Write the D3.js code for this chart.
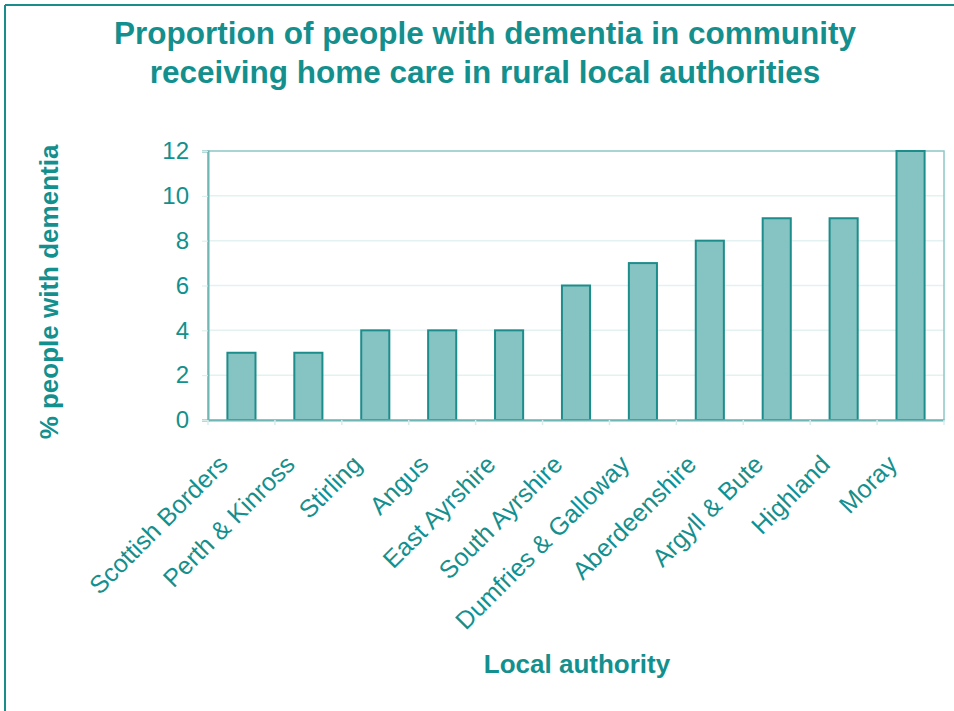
<!DOCTYPE html>
<html>
<head>
<meta charset="utf-8">
<script src="https://cdn.jsdelivr.net/npm/d3@7"></script>
<style>
  body { margin: 0; background: #fff; }
  text { font-family: "Liberation Sans", Arial, sans-serif; }
</style>
</head>
<body>
<div id="chart"></div>
<script>
// data
var authorities = ["Scottish Borders", "Perth & Kinross", "Stirling", "Angus", "East Ayrshire",
                   "South Ayrshire", "Dumfries & Galloway", "Aberdeenshire", "Argyll & Bute",
                   "Highland", "Moray"];
var percentages = [3, 3, 4, 4, 4, 6, 7, 8, 9, 9, 12];
var yTicks = [0, 2, 4, 6, 8, 10, 12];

var teal = "#13908e";

var svg = d3.select("#chart").append("svg")
            .attr("width", 954)
            .attr("height", 711);

// outer frame (top and left edges visible)
svg.append("line").attr("x1", 5).attr("x2", 954).attr("y1", 5).attr("y2", 5)
   .attr("stroke", "#1a8c8a").attr("stroke-width", 2);
svg.append("line").attr("x1", 5).attr("x2", 5).attr("y1", 5).attr("y2", 711)
   .attr("stroke", "#1a8c8a").attr("stroke-width", 2);

var plot = { left: 208, right: 944, top: 151, bottom: 420 };

var x = d3.scaleBand()
          .domain(authorities)
          .range([plot.left, plot.right])
          .paddingInner(0.58)
          .paddingOuter(0.29);

var xOuter = d3.scaleBand().domain(authorities).range([plot.left, plot.right]);

var y = d3.scaleLinear().domain([0, 12]).range([plot.bottom, plot.top]);

// gridlines
svg.append("g")
   .selectAll("line")
   .data(yTicks.slice(1, -1))
   .enter().append("line")
   .attr("x1", plot.left).attr("x2", plot.right)
   .attr("y1", function(d) { return y(d); })
   .attr("y2", function(d) { return y(d); })
   .attr("stroke", "#e3f1f1").attr("stroke-width", 1.5);

// plot frame
svg.append("rect")
   .attr("x", plot.left).attr("y", plot.top)
   .attr("width", plot.right - plot.left).attr("height", plot.bottom - plot.top)
   .attr("fill", "none").attr("stroke", "#8cc8c6").attr("stroke-width", 1.5);

// bars
svg.append("g")
   .selectAll("rect")
   .data(percentages)
   .enter().append("rect")
   .attr("x", function(d, i) { return x(authorities[i]); })
   .attr("y", function(d) { return y(d); })
   .attr("width", x.bandwidth())
   .attr("height", function(d) { return y(0) - y(d); })
   .attr("fill", "#85c4c3")
   .attr("stroke", "#1d8d8b")
   .attr("stroke-width", 2);

// y axis
var yAxis = svg.append("g")
   .attr("transform", "translate(" + plot.left + ",0)")
   .call(d3.axisLeft(y).tickValues(yTicks).tickSize(6).tickPadding(13));
yAxis.select(".domain").attr("stroke", "#6fb6b4").attr("stroke-width", 2);
yAxis.selectAll(".tick line").attr("stroke", "#d8ecec");
yAxis.selectAll(".tick text")
     .attr("fill", teal)
     .style("font-size", "24px")
     .style("font-family", "Liberation Sans, Arial, sans-serif");

// x axis
var xAxis = svg.append("g")
   .attr("transform", "translate(0," + plot.bottom + ")")
   .call(d3.axisBottom(xOuter).tickSize(0).tickPadding(0));
xAxis.select(".domain").attr("stroke", "#6fb6b4").attr("stroke-width", 2);
xAxis.selectAll(".tick text")
     .attr("fill", teal)
     .attr("text-anchor", "end")
     .attr("x", -12).attr("y", 46).attr("dy", 0)
     .attr("transform", "rotate(-45,-12,46)")
     .style("font-size", "25px")
     .style("font-family", "Liberation Sans, Arial, sans-serif");

// little ticks at the category boundaries
svg.append("g")
   .selectAll("line")
   .data(authorities.concat(["end"]))
   .enter().append("line")
   .attr("x1", function(d, i) { return plot.left + i * xOuter.step(); })
   .attr("x2", function(d, i) { return plot.left + i * xOuter.step(); })
   .attr("y1", plot.bottom).attr("y2", plot.bottom + 5)
   .attr("stroke", "#d8ecec").attr("stroke-width", 1.5);

// titles
var title = svg.append("text")
   .attr("text-anchor", "middle")
   .attr("fill", teal)
   .style("font-size", "31.5px").style("font-weight", "bold");
title.append("tspan").attr("x", 485).attr("y", 44).text("Proportion of people with dementia in community");
title.append("tspan").attr("x", 485).attr("y", 83).text("receiving home care in rural local authorities");

svg.append("text")
   .attr("transform", "translate(58,292) rotate(-90)")
   .attr("text-anchor", "middle")
   .attr("fill", teal)
   .style("font-size", "26px").style("font-weight", "bold")
   .text("% people with dementia");

svg.append("text")
   .attr("x", 577).attr("y", 673)
   .attr("text-anchor", "middle")
   .attr("fill", teal)
   .style("font-size", "26px").style("font-weight", "bold")
   .text("Local authority");
</script>
</body>
</html>
